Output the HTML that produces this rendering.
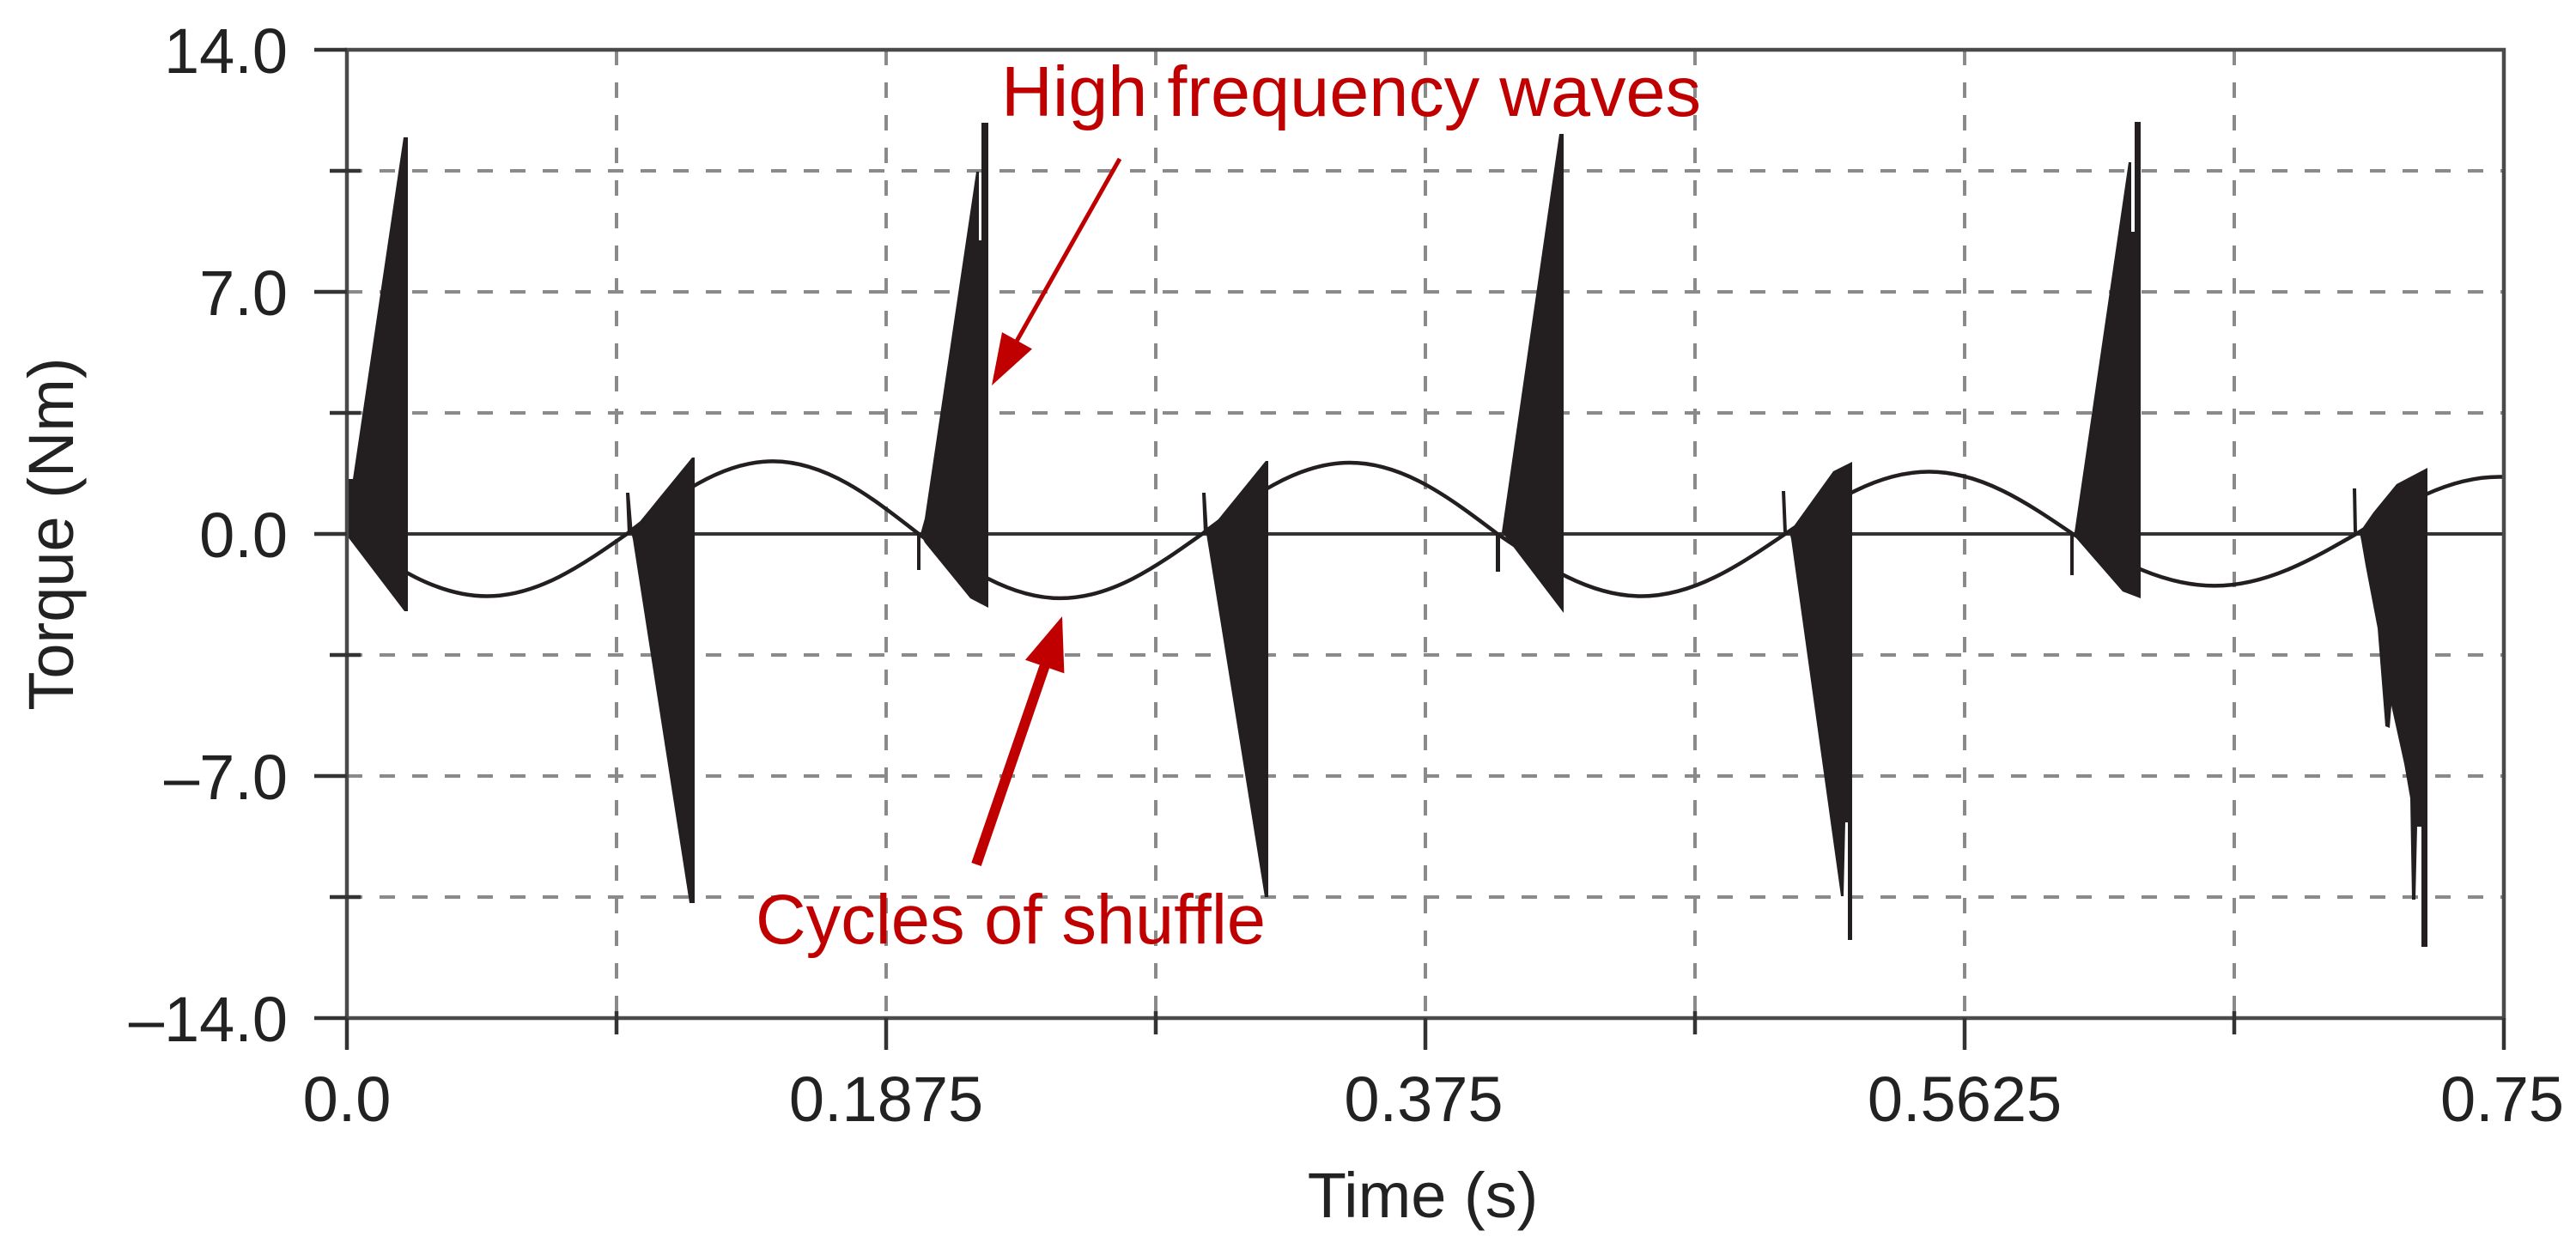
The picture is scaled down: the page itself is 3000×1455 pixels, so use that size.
<!DOCTYPE html>
<html>
<head>
<meta charset="utf-8">
<style>
html,body{margin:0;padding:0;background:#fff;}
svg{display:block;}
</style>
</head>
<body>
<svg width="3000" height="1455" viewBox="0 0 3000 1455" xmlns="http://www.w3.org/2000/svg">
<defs>
<clipPath id="plot"><rect x="404" y="58" width="2512" height="1128"/></clipPath>
</defs>
<rect x="0" y="0" width="3000" height="1455" fill="#ffffff"/>

<!-- horizontal dashed grid -->
<g stroke="#8a8a8a" stroke-width="4" stroke-dasharray="18 20" fill="none">
<line x1="404" y1="199" x2="2916" y2="199"/>
<line x1="404" y1="340" x2="2916" y2="340"/>
<line x1="404" y1="481" x2="2916" y2="481"/>
<line x1="404" y1="763" x2="2916" y2="763"/>
<line x1="404" y1="904" x2="2916" y2="904"/>
<line x1="404" y1="1045" x2="2916" y2="1045"/>
<!-- vertical dashed grid -->
<line x1="718" y1="58" x2="718" y2="1186"/>
<line x1="1032" y1="58" x2="1032" y2="1186"/>
<line x1="1346" y1="58" x2="1346" y2="1186"/>
<line x1="1660" y1="58" x2="1660" y2="1186"/>
<line x1="1974" y1="58" x2="1974" y2="1186"/>
<line x1="2288" y1="58" x2="2288" y2="1186"/>
<line x1="2602" y1="58" x2="2602" y2="1186"/>
</g>

<!-- zero line -->
<line x1="404" y1="622" x2="2916" y2="622" stroke="#333" stroke-width="4"/>

<!-- sine-like base curve -->
<g clip-path="url(#plot)">
<path fill="none" stroke="#231f20" stroke-width="4.5" d="M404,622
C457.2,659.2 508,694.5 567,694.5 C626,694.5 676.8,659.2 730,622
C785.4,578.7 838.5,537.4 900,537.4 C961.5,537.4 1014.6,578.7 1070,622
C1123.8,660.4 1175.3,696.9 1235,696.9 C1294.7,696.9 1346.2,660.4 1400,622
C1456.1,579.5 1509.8,539 1572,539 C1634.2,539 1687.9,579.5 1744,622
C1798.6,659.2 1850.9,694.5 1911.5,694.5 C1972.1,694.5 2024.4,659.2 2079,622
C2133.6,584.8 2185.9,549.5 2246.5,549.5 C2307.1,549.5 2359.4,584.8 2414,622
C2467.8,653 2519.3,682.4 2579,682.4 C2638.7,682.4 2690.2,653 2744,622
C2798.3,588 2850.2,555.5 2910.5,555.5 L2930,555.5"/>

<g fill="#231f20" stroke="none">
<!-- burst 1 -->
<polygon points="404,558 411,558 470,160 475,160 475,712 471,712 404,624"/>
<!-- burst 2 -->
<polygon points="729,574 733,574 737,622 731,622"/>
<polygon points="735,620 806,533 809,533 809,1052 803,1052 737,628"/>
<!-- burst 3 -->
<polygon points="1068,622 1072,622 1072,664 1068,664"/>
<polygon points="1072,622 1077,604 1137,200 1140,200 1140,280 1143,280 1143,143 1151,143 1151,708 1130,697 1077,632"/>
<!-- burst 4 -->
<polygon points="1400,574 1404,574 1407,622 1402,622"/>
<polygon points="1405,622 1474,537 1477,537 1477,1045 1473,1045"/>
<!-- burst 5 -->
<polygon points="1742,622 1747,622 1747,666 1742,666"/>
<polygon points="1749,620 1816,156 1821,156 1821,714 1754,626"/>
<!-- burst 6 -->
<polygon points="2075,572 2079,572 2081,620 2077,620"/>
<polygon points="2084,620 2135,549 2157,538 2157,1095 2152,1095 2152,958 2149,958 2147,1044 2144,1044 2086,628"/>
<!-- burst 7 -->
<polygon points="2411,622 2415,622 2415,670 2411,670"/>
<polygon points="2416,620 2479,189 2482,189 2482,270 2486,270 2486,142 2493,142 2493,697 2472,689 2418,627"/>
<!-- burst 8 -->
<polygon points="2740,569 2744,569 2745,620 2741,620"/>
<polygon points="2748,620 2764,597 2791,564 2827,545 2827,1103 2820,1103 2820,963 2815,963 2813,1048 2809,1048 2807,930 2800,890 2785,822 2783,848 2778,846 2769,732 2755,659 2750,630"/>
</g>
</g>

<!-- frame -->
<rect x="404" y="58" width="2512" height="1128" fill="none" stroke="#4a4a4a" stroke-width="4.5"/>

<!-- ticks -->
<g stroke="#333" stroke-width="4.5">
<line x1="366" y1="58" x2="404" y2="58"/>
<line x1="366" y1="340" x2="404" y2="340"/>
<line x1="366" y1="622" x2="404" y2="622"/>
<line x1="366" y1="904" x2="404" y2="904"/>
<line x1="366" y1="1186" x2="404" y2="1186"/>
<line x1="384" y1="199" x2="420" y2="199"/>
<line x1="384" y1="481" x2="420" y2="481"/>
<line x1="384" y1="763" x2="420" y2="763"/>
<line x1="384" y1="1045" x2="420" y2="1045"/>
<line x1="404" y1="1186" x2="404" y2="1223"/>
<line x1="1032" y1="1186" x2="1032" y2="1223"/>
<line x1="1660" y1="1186" x2="1660" y2="1223"/>
<line x1="2288" y1="1186" x2="2288" y2="1223"/>
<line x1="2916" y1="1186" x2="2916" y2="1223"/>
<line x1="718" y1="1178" x2="718" y2="1205"/>
<line x1="1346" y1="1178" x2="1346" y2="1205"/>
<line x1="1974" y1="1178" x2="1974" y2="1205"/>
<line x1="2602" y1="1178" x2="2602" y2="1205"/>
</g>

<!-- tick labels -->
<g font-family="'Liberation Sans', Arial, sans-serif" font-size="74" fill="#222">
<text x="335" y="85" text-anchor="end">14.0</text>
<text x="335" y="367" text-anchor="end">7.0</text>
<text x="335" y="649" text-anchor="end">0.0</text>
<text x="335" y="931" text-anchor="end">–7.0</text>
<text x="335" y="1213" text-anchor="end">–14.0</text>
<text x="404" y="1306" text-anchor="middle">0.0</text>
<text x="1032" y="1306" text-anchor="middle">0.1875</text>
<text x="1658" y="1306" text-anchor="middle">0.375</text>
<text x="2288" y="1306" text-anchor="middle">0.5625</text>
<text x="2914" y="1306" text-anchor="middle">0.75</text>
<text x="1657" y="1418" text-anchor="middle">Time (s)</text>
<text x="85" y="622" text-anchor="middle" transform="rotate(-90 85 622)">Torque (Nm)</text>
</g>

<!-- annotations -->
<g font-family="'Liberation Sans', Arial, sans-serif" fill="#c00000">
<text x="1166" y="135" font-size="83" textLength="815" lengthAdjust="spacingAndGlyphs">High frequency waves</text>
<text x="880" y="1099" font-size="82" textLength="594" lengthAdjust="spacingAndGlyphs">Cycles of shuffle</text>
</g>

<!-- thin arrow -->
<line x1="1304" y1="185" x2="1178" y2="408" stroke="#c00000" stroke-width="5"/>
<polygon points="1155,449 1167,387 1202,406.5" fill="#c00000"/>

<!-- thick arrow -->
<line x1="1137" y1="1007" x2="1220" y2="766" stroke="#c00000" stroke-width="12"/>
<polygon points="1237,718 1194,768.8 1239.4,784.4" fill="#c00000"/>
</svg>
</body>
</html>
